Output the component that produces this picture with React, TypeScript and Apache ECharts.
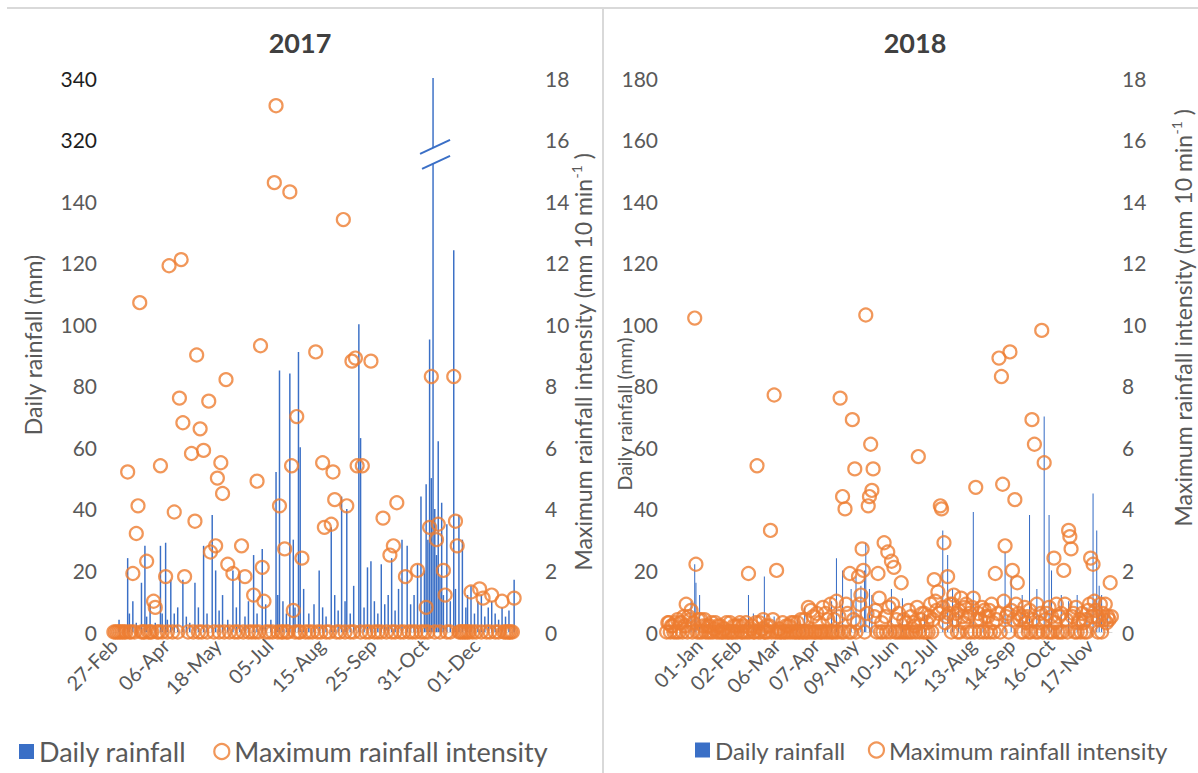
import React, { useEffect, useRef } from "react";
import * as echarts from "echarts";

// ---- categories -----------------------------------------------------------
const MONTHS = ["Jan", "Feb", "Mar", "Apr", "May", "Jun", "Jul", "Aug", "Sep", "Oct", "Nov", "Dec"];

// 2017 record: runs of consecutive observation days (gaps between runs)
const runStarts2017 = ["2017-02-27", "2017-04-06", "2017-05-18", "2017-07-05", "2017-08-15", "2017-09-25", "2017-10-31", "2017-12-01"];
const runLengths2017 = [30, 30, 30, 30, 30, 30, 30, 23];
const labelEvery2017 = 30;
// 2018 record: 365 consecutive days, labelled every 32 days from 01-Jan
const start2018 = "2017-12-06";
const dayCount2018 = 365;
const labelAnchor2018 = "01-Jan";
const labelEvery2018 = 32;

// ---- 2017 values ([day index, value]) --------------------------------------
const rain2017: [number, number][] = [
  [3, 4], [6, 2], [8, 24], [9, 6], [11, 10], [13, 3], [16, 16], [18, 28], [19, 5], [21, 9], [24, 3], [27, 28], [28, 6],
  [30, 29], [31, 4], [33, 17], [35, 6], [37, 8], [40, 17], [42, 5], [44, 3], [47, 16], [49, 8], [52, 28], [54, 6],
  [57, 38], [59, 20], [61, 7], [63, 12], [66, 4], [69, 20], [71, 8], [73, 19], [76, 5], [78, 10], [81, 25], [83, 6],
  [86, 27], [88, 9], [91, 4], [94, 52], [95, 12], [96, 85], [98, 10], [100, 6], [102, 84], [104, 30], [105, 8],
  [107, 91], [108, 60], [110, 14], [113, 6], [116, 9], [119, 20], [121, 8], [123, 5], [126, 34], [128, 12], [130, 7],
  [132, 44], [134, 10], [135, 40], [137, 6], [139, 15], [142, 100], [143, 63], [145, 8], [147, 21], [149, 23],
  [151, 10], [153, 6], [155, 22], [157, 9], [159, 12], [161, 24], [163, 7], [165, 14], [167, 30], [170, 28], [172, 9],
  [174, 12], [176, 22], [178, 44], [180, 20], [181, 48], [182, 30], [183, 95], [184, 50], [185, 340], [186, 40],
  [187, 25], [188, 62], [189, 18], [190, 42], [191, 12], [193, 35], [195, 10], [197, 124], [198, 14], [200, 38],
  [202, 30], [204, 8], [205, 12], [207, 15], [209, 6], [211, 10], [213, 12], [215, 5], [217, 8], [219, 10], [221, 6],
  [223, 4], [225, 8], [227, 5], [229, 7], [232, 17],
];
const intensity2017: [number, number][] = [
  [8, 5.2], [11, 1.9], [13, 3.2], [14, 4.1], [15, 10.7], [19, 2.3], [23, 1.0], [24, 0.8], [27, 5.4], [30, 1.8],
  [32, 11.9], [35, 3.9], [38, 7.6], [39, 12.1], [40, 6.8], [41, 1.8], [45, 5.8], [47, 3.6], [48, 9.0], [50, 6.6],
  [52, 5.9], [55, 7.5], [56, 2.6], [59, 2.8], [60, 5.0], [62, 5.5], [63, 4.5], [65, 8.2], [66, 2.2], [69, 1.9],
  [74, 2.8], [76, 1.8], [81, 1.2], [83, 4.9], [85, 9.3], [86, 2.1], [87, 1.0], [93, 14.6], [94, 17.1], [96, 4.1],
  [99, 2.7], [102, 14.3], [103, 5.4], [104, 0.7], [106, 7.0], [109, 2.4], [117, 9.1], [121, 5.5], [122, 3.4],
  [126, 3.5], [127, 5.2], [128, 4.3], [133, 13.4], [135, 4.1], [138, 8.8], [140, 8.9], [141, 5.4], [144, 5.4],
  [149, 8.8], [156, 3.7], [160, 2.5], [162, 2.8], [164, 4.2], [169, 1.8], [176, 2.0], [181, 0.8], [183, 3.4],
  [184, 8.3], [187, 3.0], [188, 3.5], [191, 2.0], [192, 1.2], [197, 8.3], [198, 3.6], [199, 2.8], [207, 1.3],
  [212, 1.4], [214, 1.1], [219, 1.2], [225, 1.0], [232, 1.1],
];
// days with a recorded intensity of zero: continuous runs, then single days
const zeroRuns2017: [number, number][] = [[0, 28], [97, 108], [200, 206], [226, 231]];
const zeroDays2017 = [
  31, 34, 37, 43, 46, 49, 51, 54, 58, 61, 64, 67, 70, 72, 75, 78, 80, 82, 84, 88, 90, 92, 95, 111, 113, 115, 118, 120,
  123, 125, 129, 131, 134, 137, 139, 143, 146, 148, 151, 153, 155, 158, 161, 163, 166, 168, 171, 173, 175, 178, 180,
  182, 186, 189, 193, 195, 208, 210, 213, 216, 218, 221, 223,
];

// ---- 2018 values ([day index, value]); unlisted days are zero ----------------
const rain2018: [number, number][] = [
  [20, 10], [23, 22], [24, 16], [27, 12], [67, 12], [71, 6], [80, 18], [88, 5], [107, 4], [113, 8], [135, 10],
  [139, 24], [144, 20], [151, 14], [155, 18], [159, 15], [162, 20], [163, 29], [166, 14], [168, 12], [184, 14],
  [193, 11], [211, 6], [226, 33], [230, 25], [234, 14], [239, 10], [251, 39], [259, 8], [277, 26], [282, 18],
  [291, 12], [297, 38], [303, 14], [309, 70], [313, 38], [315, 20], [323, 12], [329, 10], [336, 12], [344, 8],
  [349, 45], [352, 33], [354, 15], [356, 12], [361, 6],
];
// light-shower intensities (below 1.3 mm per 10 min)
const lightIntensity2018: [number, number][] = [
  [1, 0.3], [4, 0.2], [7, 0.3], [11, 0.3], [15, 0.2], [19, 0.4], [22, 0.3], [26, 0.4], [30, 0.2], [33, 0.2],
  [37, 0.3], [39, 0.1], [42, 0.2], [47, 0.1], [52, 0.3], [57, 0.2], [59, 0.2], [65, 0.3], [69, 0.1], [73, 0.3],
  [78, 0.1], [84, 0.2], [87, 0.4], [92, 0.1], [98, 0.2], [102, 0.3], [107, 0.3], [113, 0.4], [118, 0.7], [123, 0.6],
  [128, 0.8], [132, 0.4], [139, 1.0], [141, 0.5], [147, 0.9], [153, 0.4], [159, 1.2], [164, 0.6], [171, 0.7],
  [174, 1.1], [179, 0.5], [185, 0.9], [190, 0.6], [194, 0.4], [198, 0.7], [202, 0.3], [205, 0.8], [208, 0.4],
  [211, 0.6], [215, 0.5], [220, 1.0], [223, 0.6], [226, 0.8], [228, 0.3], [231, 0.6], [234, 0.9], [236, 0.4],
  [239, 0.7], [242, 0.5], [244, 0.8], [248, 0.6], [251, 1.1], [254, 0.4], [258, 0.8], [261, 0.5], [264, 0.7],
  [267, 0.3], [271, 0.6], [276, 1.0], [278, 0.5], [282, 0.7], [284, 0.4], [286, 0.9], [288, 0.6], [291, 0.5],
  [294, 0.3], [297, 0.7], [300, 0.4], [303, 0.9], [306, 0.6], [310, 0.4], [313, 0.8], [315, 0.5], [318, 0.3],
  [323, 0.6], [326, 0.9], [332, 0.5], [335, 0.8], [337, 0.3], [340, 0.6], [343, 0.4], [346, 0.9], [348, 0.5],
  [351, 0.7], [354, 0.4], [357, 0.6], [359, 0.9], [361, 0.5], [362, 0.4],
];
const intensity2018: [number, number][] = [
  [2, 0.3], [5, 0.2], [9, 0.4], [12, 0.3], [14, 0.5], [16, 0.9], [18, 0.5], [20, 0.7], [23, 10.2], [24, 2.2],
  [28, 0.4], [31, 0.4], [35, 0.2], [40, 0.3], [44, 0.2], [49, 0.3], [55, 0.2], [60, 0.3], [63, 0.2], [67, 1.9],
  [70, 0.2], [74, 5.4], [76, 0.3], [79, 0.4], [82, 0.2], [85, 3.3], [88, 7.7], [90, 2.0], [95, 0.3], [100, 0.2],
  [104, 0.3], [110, 0.4], [116, 0.8], [120, 0.5], [125, 0.3], [130, 0.6], [134, 0.9], [137, 0.4], [142, 7.6],
  [144, 4.4], [146, 4.0], [148, 0.6], [150, 1.9], [152, 6.9], [154, 5.3], [156, 0.3], [157, 1.8], [158, 0.9],
  [160, 2.7], [161, 2.0], [163, 10.3], [165, 4.1], [166, 4.4], [167, 6.1], [168, 4.6], [169, 5.3], [170, 0.5],
  [173, 1.9], [176, 0.3], [178, 2.9], [181, 2.6], [182, 0.8], [184, 2.3], [186, 2.1], [188, 0.4], [192, 1.6],
  [196, 0.3], [200, 0.5], [203, 0.2], [206, 5.7], [209, 0.6], [213, 0.3], [216, 0.9], [218, 0.4], [219, 1.7],
  [221, 0.7], [222, 1.3], [224, 4.1], [225, 4.0], [227, 2.9], [229, 0.5], [230, 1.8], [232, 0.9], [235, 1.2],
  [237, 0.6], [241, 1.1], [243, 0.3], [245, 0.9], [247, 0.5], [250, 0.8], [253, 4.7], [255, 0.6], [257, 0.4],
  [260, 0.7], [263, 0.5], [266, 0.9], [269, 1.9], [270, 0.4], [272, 8.9], [274, 8.3], [275, 4.8], [277, 2.8],
  [279, 0.6], [281, 9.1], [283, 2.0], [285, 4.3], [287, 1.6], [289, 0.4], [293, 0.8], [295, 0.5], [299, 6.9],
  [301, 6.1], [305, 0.3], [307, 9.8], [309, 5.5], [311, 0.6], [317, 2.4], [319, 0.9], [321, 0.5], [325, 2.0],
  [327, 0.4], [329, 3.3], [330, 3.1], [331, 2.7], [333, 0.6], [338, 0.4], [341, 0.3], [345, 0.7], [347, 2.4],
  [349, 2.2], [350, 1.0], [352, 0.5], [355, 0.9], [358, 0.4], [360, 0.3], [363, 1.6], [364, 0.5],
];

// broken rainfall axis for 2017: everything above the break is drawn 160 mm lower
const AXIS_BREAK_SHIFT = 160;
const BREAK_AT = 150;
const rainTicks2017Broken = [160, 180];

// ---- helpers --------------------------------------------------------------
const fmtDay = (t: number) => {
  const d = new Date(t);
  return `${String(d.getUTCDate()).padStart(2, "0")}-${MONTHS[d.getUTCMonth()]}`;
};
const dayRun = (start: string, n: number) => {
  const t0 = Date.parse(start + "T00:00:00Z");
  return Array.from({ length: n }, (_, k) => fmtDay(t0 + k * 86400000));
};
const categories2017 = runStarts2017.flatMap((s, k) => dayRun(s, runLengths2017[k]));
const categories2018 = dayRun(start2018, dayCount2018);
const anchorIndex2018 = categories2018.indexOf(labelAnchor2018);

const dense = (n: number, pairs: [number, number][], base: number | null) => {
  const out: (number | null)[] = new Array(n).fill(base);
  pairs.forEach(([i, v]) => { out[i] = v; });
  return out;
};

const rainDrawn2017 = dense(categories2017.length, rain2017, 0).map((v) =>
  v !== null && v > BREAK_AT + AXIS_BREAK_SHIFT ? v - AXIS_BREAK_SHIFT : v
);
const brokenDay2017 = rain2017.find(([, v]) => v > BREAK_AT + AXIS_BREAK_SHIFT)![0];

const zeroPairs2017: [number, number][] = [
  ...zeroRuns2017.flatMap(([a, b]) => Array.from({ length: b - a + 1 }, (_, k) => [a + k, 0] as [number, number])),
  ...zeroDays2017.map((i) => [i, 0] as [number, number]),
];
const intensityDrawn2017 = dense(categories2017.length, [...zeroPairs2017, ...intensity2017], null);
const rainDrawn2018 = dense(categories2018.length, rain2018, 0);
const intensityDrawn2018 = dense(categories2018.length, [...lightIntensity2018, ...intensity2018], 0);

// ---- styling ---------------------------------------------------------------
const FONT = "Lato, 'Open Sans', sans-serif";
const GREY = "#595959";
const BLUE = "#3a6fc6";
const ORANGE = "#ED7D31";
const TICK_FONT = 21;

const rainAxis = (grid: number, broken: boolean, margin: number) => ({
  type: "value",
  gridIndex: grid,
  position: "left",
  min: 0,
  max: 180,
  interval: 20,
  splitLine: { show: false },
  axisLine: { show: false },
  axisTick: { show: false },
  axisLabel: {
    color: GREY,
    fontSize: TICK_FONT,
    fontFamily: FONT,
    margin,
    formatter: (v: number) =>
      broken && rainTicks2017Broken.includes(v) ? `{dark|${v + AXIS_BREAK_SHIFT}}` : String(v),
    rich: { dark: { color: "#1e1e1e", fontSize: TICK_FONT, fontFamily: FONT } },
  },
});
const intensityAxis = (grid: number, margin: number) => ({
  type: "value",
  gridIndex: grid,
  position: "right",
  min: 0,
  max: 18,
  interval: 2,
  splitLine: { show: false },
  axisLine: { show: false },
  axisTick: { show: false },
  axisLabel: { color: GREY, fontSize: TICK_FONT, fontFamily: FONT, margin },
});
const dayAxis = (grid: number, data: string[], showLabel: (i: number) => boolean) => ({
  type: "category",
  gridIndex: grid,
  data,
  boundaryGap: true,
  axisLine: { show: true, lineStyle: { color: "#d9d9d9" } },
  axisTick: { show: false },
  axisLabel: {
    interval: (i: number) => showLabel(i),
    rotate: 45,
    color: GREY,
    fontSize: 20,
    fontFamily: FONT,
    margin: 10,
  },
});
const barSeries = (grid: number, data: (number | null)[]) => ({
  type: "bar",
  name: "Daily rainfall",
  xAxisIndex: grid,
  yAxisIndex: grid * 2,
  data,
  barCategoryGap: "15%",
  itemStyle: { color: BLUE },
  z: 2,
});
const dotSeries = (grid: number, data: (number | null)[]) => ({
  type: "scatter",
  name: "Maximum rainfall intensity",
  xAxisIndex: grid,
  yAxisIndex: grid * 2 + 1,
  data,
  symbol: "circle",
  symbolSize: 13,
  itemStyle: { color: "rgba(255,255,255,0)", borderColor: ORANGE, borderWidth: 2.2 },
  z: 3,
});
const legendAt = (left: number, fontSize: number, gap: number) => ({
  left,
  top: 733,
  orient: "horizontal",
  itemWidth: 15,
  itemHeight: 15,
  itemGap: gap,
  selectedMode: false,
  textStyle: { color: GREY, fontSize, fontFamily: FONT },
  data: [
    { name: "Daily rainfall", icon: "rect", itemStyle: { color: BLUE } },
    {
      name: "Maximum rainfall intensity",
      icon: "circle",
      itemStyle: { color: "#ffffff", borderColor: ORANGE, borderWidth: 2.2 },
    },
  ],
});
const vText = (id: string, x: number, y: number, text: string, fontSize: number, rich?: any) => ({
  type: "text",
  id,
  x,
  y,
  rotation: Math.PI / 2,
  style: {
    text,
    fill: GREY,
    fontSize,
    fontFamily: FONT,
    align: "center",
    verticalAlign: "middle",
    rich,
  },
});
const intensityRich = {
  a: { fontSize: 23, fontFamily: FONT, fill: GREY, color: GREY, lineHeight: 28 },
  sup: { fontSize: 14, fontFamily: FONT, fill: GREY, color: GREY, verticalAlign: "top", lineHeight: 28 },
};
const intensityTitle = "{a|Maximum rainfall intensity (mm 10 min}{sup|-1}{a| )}";

export default function App() {
  const ref = useRef<HTMLDivElement>(null);

  useEffect(() => {
    if (!ref.current) return;
    const chart = echarts.init(ref.current, undefined, { renderer: "svg" });

    chart.setOption({
      animation: false,
      backgroundColor: "#ffffff",
      textStyle: { fontFamily: FONT },
      grid: [
        { left: 113, top: 78, width: 402, height: 554 },
        { left: 666, top: 78, width: 446, height: 554 },
      ],
      xAxis: [
        dayAxis(0, categories2017, (i) => i % labelEvery2017 === 0),
        dayAxis(1, categories2018, (i) => i >= anchorIndex2018 && (i - anchorIndex2018) % labelEvery2018 === 0),
      ],
      yAxis: [rainAxis(0, true, 16), intensityAxis(0, 30), rainAxis(1, false, 8), intensityAxis(1, 10)],
      legend: [legendAt(14, 27, 27), legendAt(690, 24, 22)],
      series: [
        barSeries(0, rainDrawn2017),
        dotSeries(0, intensityDrawn2017),
        barSeries(1, rainDrawn2018),
        dotSeries(1, intensityDrawn2018),
      ],
      graphic: [
        { type: "line", id: "frameTop", shape: { x1: 7, y1: 8, x2: 1198, y2: 8 }, style: { stroke: "#d9d9d9", lineWidth: 2 } },
        { type: "line", id: "frameMid", shape: { x1: 603, y1: 8, x2: 603, y2: 773 }, style: { stroke: "#d9d9d9", lineWidth: 2 } },
        {
          type: "text", id: "title2017", x: 300, y: 42,
          style: { text: "2017", fontSize: 27, fontWeight: "bold", fontFamily: FONT, fill: "#404040", align: "center", verticalAlign: "middle" },
        },
        {
          type: "text", id: "title2018", x: 915, y: 42,
          style: { text: "2018", fontSize: 27, fontWeight: "bold", fontFamily: FONT, fill: "#404040", align: "center", verticalAlign: "middle" },
        },
        vText("yName0", 33, 345, "Daily rainfall (mm)", 23),
        vText("yName1", 583, 362, intensityTitle, 23, intensityRich),
        vText("yName2", 624, 414, "Daily rainfall (mm)", 19.5),
        vText("yName3", 1183, 318, intensityTitle, 23, intensityRich),
      ],
    });

    // axis-break mark on the bar that runs past the break
    const [bx, by] = chart.convertToPixel({ xAxisIndex: 0, yAxisIndex: 0 }, [brokenDay2017, 155]) as number[];
    chart.setOption({
      graphic: [
        {
          type: "polygon", id: "breakGap",
          shape: { points: [[bx - 13, by - 1], [bx + 17, by - 15], [bx + 17, by + 1], [bx - 11, by + 14]] },
          style: { fill: "#ffffff" }, z: 10,
        },
        { type: "line", id: "breakUp", shape: { x1: bx - 13, y1: by - 1, x2: bx + 17, y2: by - 15 }, style: { stroke: BLUE, lineWidth: 2 }, z: 11 },
        { type: "line", id: "breakDown", shape: { x1: bx - 11, y1: by + 14, x2: bx + 17, y2: by + 1 }, style: { stroke: BLUE, lineWidth: 2 }, z: 11 },
      ],
    });

    return () => chart.dispose();
  }, []);

  return <div ref={ref} style={{ position: "absolute", left: 0, top: 0, width: 1198, height: 773 }} />;
}
